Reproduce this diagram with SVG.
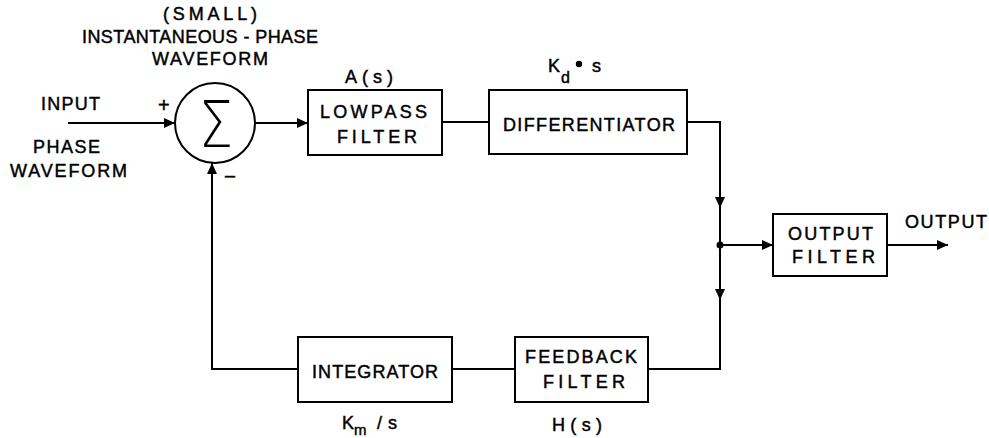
<svg xmlns="http://www.w3.org/2000/svg" width="989" height="438" viewBox="0 0 989 438">
<style>
.t{font-family:"Liberation Sans",Arial,sans-serif;font-size:18px;fill:#000;stroke:#000;stroke-width:0.45}
.s{font-family:"Liberation Sans",Arial,sans-serif;font-size:16px;fill:#000;stroke:#000;stroke-width:0.45}
.box{fill:#fff;stroke:#000;stroke-width:2}
.ln{fill:none;stroke:#000;stroke-width:2}
</style>
<defs>
<marker id="ah" markerWidth="12" markerHeight="10" refX="11" refY="5" orient="auto" markerUnits="userSpaceOnUse">
<path d="M0,0 L11,5 L0,10 Z" fill="#000"/>
</marker>
</defs>
<rect width="989" height="438" fill="#fff"/>

<g id="labels">
<text class="t" x="163" y="20" textLength="94" lengthAdjust="spacing">(SMALL)</text>
<text class="t" x="82" y="43" textLength="236" lengthAdjust="spacing">INSTANTANEOUS - PHASE</text>
<text class="t" x="152" y="65" textLength="116" lengthAdjust="spacing">WAVEFORM</text>
<text class="t" x="41" y="110" textLength="59" lengthAdjust="spacing">INPUT</text>
<text class="t" x="33" y="153" textLength="67" lengthAdjust="spacing">PHASE</text>
<text class="t" x="10" y="177" textLength="117" lengthAdjust="spacing">WAVEFORM</text>
<text class="t" x="158" y="112" style="font-size:20px">+</text>
<text class="t" x="225" y="181">–</text>
<text class="t" x="905" y="228" textLength="82" lengthAdjust="spacing">OUTPUT</text>
<text class="t" x="345" y="83" textLength="48" lengthAdjust="spacing">A(s)</text>
<text class="t" x="548" y="72">K</text>
<text class="s" x="561" y="83">d</text>
<circle cx="579" cy="64" r="3.2" fill="#000"/>
<text class="t" x="592" y="72">s</text>
<text class="t" x="342" y="429">K</text>
<text class="s" x="354" y="435" style="font-size:15px">m</text>
<text class="t" x="377" y="429" textLength="20" lengthAdjust="spacing">/s</text>
<text class="t" x="552" y="431" textLength="50" lengthAdjust="spacing">H(s)</text>
</g>

<g id="sum">
<circle cx="215" cy="123" r="40" fill="#fff" stroke="#000" stroke-width="2"/>
<text x="216" y="147" text-anchor="middle" style="font-family:'DejaVu Sans',sans-serif;font-size:64px;font-weight:200" transform="translate(216 0) scale(0.85 1) translate(-216 0)">Σ</text>
</g>

<g id="lowpass">
<rect class="box" x="308" y="90" width="134" height="65"/>
<text class="t" x="320" y="118" textLength="107" lengthAdjust="spacing">LOWPASS</text>
<text class="t" x="337" y="143" textLength="80" lengthAdjust="spacing">FILTER</text>
</g>

<g id="differentiator">
<rect class="box" x="489" y="90" width="198" height="64"/>
<text class="t" x="503" y="131" textLength="172" lengthAdjust="spacing">DIFFERENTIATOR</text>
</g>

<g id="outputfilter">
<rect class="box" x="773" y="214" width="114" height="62"/>
<text class="t" x="788" y="240" textLength="85" lengthAdjust="spacing">OUTPUT</text>
<text class="t" x="792" y="263" textLength="83" lengthAdjust="spacing">FILTER</text>
</g>

<g id="integrator">
<rect class="box" x="298" y="337" width="154" height="65"/>
<text class="t" x="312" y="378" textLength="126" lengthAdjust="spacing">INTEGRATOR</text>
</g>

<g id="feedbackfilter">
<rect class="box" x="515" y="337" width="133" height="65"/>
<text class="t" x="525" y="363" textLength="112" lengthAdjust="spacing">FEEDBACK</text>
<text class="t" x="543" y="388" textLength="82" lengthAdjust="spacing">FILTER</text>
</g>

<g id="connectors">
<line class="ln" x1="68" y1="123" x2="175" y2="123" marker-end="url(#ah)"/>
<line class="ln" x1="255" y1="123" x2="308" y2="123" marker-end="url(#ah)"/>
<line class="ln" x1="442" y1="122" x2="489" y2="122"/>
<polyline class="ln" points="687,122 720,122 720,208" marker-end="url(#ah)"/>
<line class="ln" x1="720" y1="206" x2="720" y2="300" marker-end="url(#ah)"/>
<polyline class="ln" points="720,298 720,369 648,369"/>
<line class="ln" x1="720" y1="245" x2="773" y2="245" marker-end="url(#ah)"/>
<circle cx="720" cy="245" r="3.5" fill="#000"/>
<line class="ln" x1="887" y1="245" x2="948" y2="245" marker-end="url(#ah)"/>
<line class="ln" x1="515" y1="369" x2="452" y2="369"/>
<polyline class="ln" points="298,369 212,369 212,163" marker-end="url(#ah)"/>
</g>
</svg>
